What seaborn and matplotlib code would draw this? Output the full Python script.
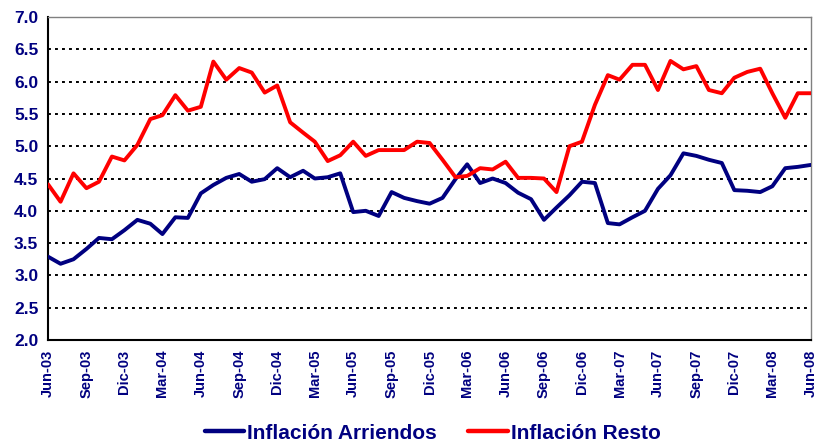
import pandas as pd
import matplotlib
matplotlib.use("Agg")
import matplotlib.pyplot as plt
import seaborn as sns

# ---- Data (monthly, Jun-03 .. Jun-08) ----
meses = pd.date_range("2003-06-01", "2008-06-01", freq="MS")

arriendos = [3.29, 3.18, 3.25, 3.41, 3.58, 3.56, 3.70, 3.86, 3.80, 3.64,
             3.90, 3.89, 4.27, 4.40, 4.51, 4.57, 4.45, 4.49, 4.66, 4.52,
             4.62, 4.50, 4.52, 4.58, 3.98, 4.00, 3.92, 4.29, 4.20, 4.15,
             4.11, 4.20, 4.49, 4.72, 4.43, 4.50, 4.43, 4.28, 4.18, 3.86,
             4.05, 4.24, 4.45, 4.43, 3.81, 3.79, 3.90, 4.00, 4.34, 4.55,
             4.89, 4.85, 4.79, 4.74, 4.32, 4.31, 4.29, 4.38, 4.66, 4.68,
             4.71]

resto = [4.41, 4.14, 4.58, 4.35, 4.45, 4.84, 4.78, 5.02, 5.42, 5.48,
         5.79, 5.55, 5.61, 6.31, 6.03, 6.21, 6.14, 5.83, 5.94, 5.37,
         5.21, 5.07, 4.77, 4.86, 5.07, 4.85, 4.94, 4.94, 4.94, 5.07,
         5.05, 4.79, 4.52, 4.54, 4.66, 4.64, 4.76, 4.51, 4.51, 4.50,
         4.29, 5.00, 5.07, 5.64, 6.10, 6.03, 6.26, 6.26, 5.87, 6.32,
         6.19, 6.24, 5.87, 5.82, 6.06, 6.15, 6.20, 5.82, 5.44, 5.82,
         5.82]

series = ["Inflación Arriendos", "Inflación Resto"]
colores = ["#000080", "#FF0000"]

tick_labels = ["Jun-03", "Sep-03", "Dic-03", "Mar-04", "Jun-04", "Sep-04", "Dic-04",
               "Mar-05", "Jun-05", "Sep-05", "Dic-05", "Mar-06", "Jun-06", "Sep-06",
               "Dic-06", "Mar-07", "Jun-07", "Sep-07", "Dic-07", "Mar-08", "Jun-08"]
y_ticks = [2.0, 2.5, 3.0, 3.5, 4.0, 4.5, 5.0, 5.5, 6.0, 6.5, 7.0]

df = pd.DataFrame({"Mes": meses, series[0]: arriendos, series[1]: resto})
long_df = df.melt(id_vars="Mes", var_name="Serie", value_name="Inflacion")

# ---- Style ----
sns.set_style("white")
plt.rcParams["font.family"] = ["Liberation Sans", "DejaVu Sans"]
plt.rcParams["font.weight"] = "bold"
text_color = "#000080"

fig = plt.figure(figsize=(8.21, 4.43), dpi=100)
ax = fig.add_axes([0.0585, 0.2325, 0.929, 0.7291])

sns.lineplot(data=long_df, x="Mes", y="Inflacion", hue="Serie",
             palette=dict(zip(series, colores)), linewidth=2.8,
             legend=False, ax=ax, zorder=3)

ax.set_xlim(meses[0], meses[-1])
ax.set_ylim(2.0, 7.0)
ax.set_xlabel("")
ax.set_ylabel("")

# ticks
ax.set_xticks(meses[::3])
ax.set_xticklabels(tick_labels, rotation=90, fontsize=10.5,
                   fontweight="bold", color=text_color)
ax.set_yticks(y_ticks)
ax.set_yticklabels([f"{v:.1f}" for v in y_ticks], fontsize=12.5,
                   fontweight="bold", color=text_color)
ax.tick_params(axis="x", direction="out", length=5, width=1.2, color="black", pad=2)
ax.tick_params(axis="y", direction="out", length=4, width=1.2, color="black", pad=3)

# dotted horizontal grid
for v in y_ticks[1:]:
    ax.axhline(v, color="black", linewidth=1.4, linestyle=(0, (1.5, 2.1)), zorder=1)

for side in ["left", "bottom"]:
    ax.spines[side].set_color("black")
    ax.spines[side].set_linewidth(1.5)
for side in ["top", "right"]:
    ax.spines[side].set_visible(True)
    ax.spines[side].set_color("#808080")
    ax.spines[side].set_linewidth(1.0)

# legend
handles = [plt.Line2D([], [], color=c, linewidth=3.2) for c in colores]
fig.legend(handles, series, loc="center", bbox_to_anchor=(0.527, 0.022),
           ncol=2, frameon=False, handlelength=1.9, handletextpad=0.15,
           columnspacing=1.5, prop={"size": 15, "weight": "bold"},
           labelcolor=text_color)

plt.savefig("out.png", dpi=100)
plt.close()
